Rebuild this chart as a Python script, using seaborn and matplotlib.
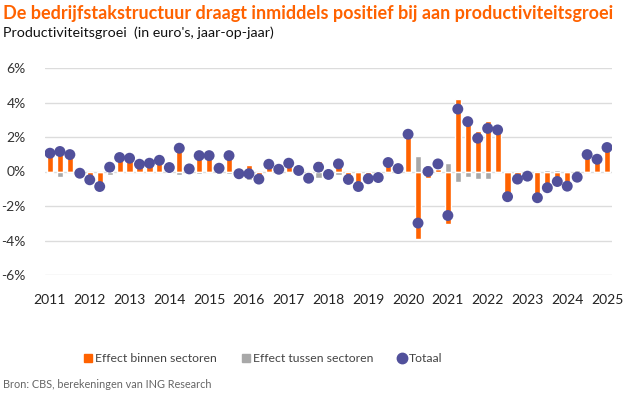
import numpy as np
import pandas as pd
import matplotlib.pyplot as plt
import seaborn as sns

# =========================
# DATA (kwartalen 2011K1 - 2025K1)
# =========================
jaren = [str(j) for j in range(2011, 2026)]

totaal = [1.06, 1.16, 0.98, -0.10, -0.48, -0.87, 0.25, 0.81, 0.77, 0.42,
          0.48, 0.65, 0.23, 1.35, 0.15, 0.92, 0.92, 0.19, 0.92, -0.13,
          -0.13, -0.44, 0.42, 0.13, 0.48, 0.06, -0.39, 0.25, -0.17, 0.44,
          -0.46, -0.87, -0.42, -0.35, 0.52, 0.17, 2.16, -2.99, 0.00, 0.44,
          -2.55, 3.62, 2.89, 1.93, 2.50, 2.41, -1.46, -0.44, -0.27, -1.52,
          -0.94, -0.58, -0.85, -0.33, 0.98, 0.71, 1.39]

binnen = [1.15, 1.45, 1.02, -0.10, -0.38, -0.85, 0.48, 0.90, 0.80, 0.45,
          0.50, 0.68, 0.32, 1.55, 0.15, 1.08, 0.97, 0.34, 1.06, 0.10,
          0.40, -0.30, 0.52, 0.15, 0.55, 0.06, -0.14, 0.60, 0.00, 0.66,
          -0.36, -0.87, -0.32, -0.35, 0.55, 0.17, 2.20, -3.89, -0.37, 0.12,
          -3.02, 4.20, 3.18, 2.37, 2.95, 2.46, -1.46, -0.40, -0.25, -1.50,
          -1.00, -0.68, -0.85, -0.43, 1.00, 0.71, 1.40]

tussen = [-0.10, -0.30, -0.05, 0.00, -0.10, 0.00, -0.23, -0.10, 0.00, -0.03,
          0.00, -0.02, -0.10, -0.20, 0.00, -0.17, -0.05, -0.15, -0.15, -0.23,
          -0.52, -0.14, -0.10, 0.00, -0.07, 0.00, -0.25, -0.35, -0.17, -0.23,
          -0.10, 0.00, -0.10, 0.00, -0.03, 0.00, 0.00, 0.90, 0.37, 0.32,
          0.50, -0.58, -0.29, -0.42, -0.42, -0.05, 0.00, -0.04, -0.02, -0.02,
          0.06, 0.10, 0.00, 0.10, 0.00, 0.00, 0.00]

ORANJE = "#FF6200"
GRIJS = "#A8A8A8"
PAARS = "#51509B"

df = pd.DataFrame({"binnen": binnen, "tussen": tussen, "totaal": totaal})
df["x"] = np.arange(len(df))

# stapelen zoals Excel: positief en negatief apart
b = df["binnen"].values
t = df["tussen"].values
df["bodem_tussen"] = np.where(np.sign(b) == np.sign(t), b, 0.0)

# =========================
# PLOT
# =========================
sns.set_theme(style="white")
plt.rcParams["font.family"] = ["Lato", "DejaVu Sans"]

fig = plt.figure(figsize=(6.26, 3.93), dpi=100)
ax = fig.add_axes([45 / 626, 1 - 275 / 393, 567 / 626, 207 / 393])

ax.bar(df["x"], df["binnen"], width=0.62, color=ORANJE, zorder=2,
       label="Effect binnen sectoren")
ax.bar(df["x"], df["tussen"], width=0.62, bottom=df["bodem_tussen"], color=GRIJS,
       zorder=2, label="Effect tussen sectoren")
sns.scatterplot(data=df, x="x", y="totaal", ax=ax, s=62, color=PAARS,
                edgecolor="none", zorder=3, label="Totaal", legend=False)

ax.set_xlim(-0.5, len(df) - 0.5)
ax.set_ylim(-6, 6)
ax.set_yticks(np.arange(-6, 7, 2))
ax.set_yticklabels([f"{v}%" for v in range(-6, 7, 2)])
ax.set_xticks(np.arange(0, len(df), 4))
ax.set_xticklabels(jaren)
ax.set_xlabel("")
ax.set_ylabel("")
ax.yaxis.grid(True, color="#DCDCDC", linewidth=1, zorder=0)
ax.xaxis.grid(False)
ax.tick_params(axis="y", length=0, pad=14, labelsize=10, labelcolor="#333333")
ax.tick_params(axis="x", length=0, pad=14, labelsize=10, labelcolor="#222222")
sns.despine(ax=ax, left=True, bottom=True)

fig.text(0.004, 1 - 14 / 393, "De bedrijfstakstructuur draagt inmiddels positief bij aan productiviteitsgroei",
         color=ORANJE, fontsize=13, fontweight="bold", va="center", ha="left")
fig.text(0.004, 1 - 33 / 393, "Productiviteitsgroei  (in euro's, jaar-op-jaar)",
         color="#111111", fontsize=10.3, va="center", ha="left")
fig.text(0.004, 1 - 384 / 393, "Bron: CBS, berekeningen van ING Research",
         color="#666666", fontsize=7.8, va="center", ha="left")

handles = [
    plt.Line2D([], [], marker="s", linestyle="none", color=ORANJE, markersize=6),
    plt.Line2D([], [], marker="s", linestyle="none", color=GRIJS, markersize=6),
    plt.Line2D([], [], marker="o", linestyle="none", color=PAARS, markersize=7.5),
]
labels = ["Effect binnen sectoren", "Effect tussen sectoren", "Totaal"]
fig.legend(handles, labels, loc="center", bbox_to_anchor=(263 / 626, 1 - 359 / 393),
           ncol=3, frameon=False, fontsize=8.8, handletextpad=0.15,
           columnspacing=2.0, handlelength=0.8, labelcolor="#444444")

fig.savefig("out.png", dpi=100)
